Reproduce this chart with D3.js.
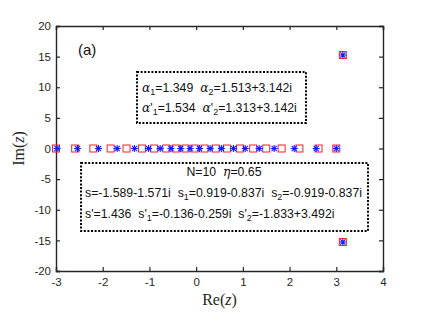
<!DOCTYPE html>
<html>
<head>
  <meta charset="utf-8">
  <script src="https://d3js.org/d3.v7.min.js"></script>
  <style>
  body { margin: 0; background: #fff; }
  text { font-family: "Liberation Sans", Arial, sans-serif; white-space: pre; }
  </style>
</head>
<body>
  <script>
  var w = 436;
  var h = 327;

  //Zeros shown as red squares
  var squareRe = [-3.0, -2.59, -2.2, -1.83, -1.49, -1.16, -0.9, -0.64, -0.43, -0.23, -0.03, 0.18, 0.42, 0.66, 0.94, 1.22, 1.5, 1.83, 2.21, 2.62, 3.0, 3.14, 3.14];
  var squareIm = [0, 0, 0, 0, 0, 0, 0, 0, 0, 0, 0, 0, 0, 0, 0, 0, 0, 0, 0, 0, 0, 15.27, -15.27];

  //Zeros shown as blue stars
  var starRe = [-2.98, -2.54, -2.09, -1.69, -1.32, -1.02, -0.77, -0.54, -0.33, -0.13, 0.07, 0.3, 0.54, 0.8, 1.05, 1.35, 1.67, 2.1, 2.57, 3.0, 3.14, 3.14];
  var starIm = [0, 0, 0, 0, 0, 0, 0, 0, 0, 0, 0, 0, 0, 0, 0, 0, 0, 0, 0, 0, 15.27, -15.27];

  var xTicks = [-3, -2, -1, 0, 1, 2, 3, 4];
  var yTicks = [-20, -15, -10, -5, 0, 5, 10, 15, 20];

  var margin = {left: 56, right: 53, top: 26, bottom: 56};

  var x = d3.scaleLinear().domain([-3, 4]).range([margin.left, w - margin.right]);
  var y = d3.scaleLinear().domain([-20, 20]).range([h - margin.bottom, margin.top]);

  var svg = d3.select("body").append("svg")
    .attr("width", w)
    .attr("height", h);

  //Plain hyphen labels like the original
  var fmt = function(d){ return String(d); };

  //Axes, ticks pointing in, mirrored on top and right
  var tk = 4;
  svg.append("g")
    .attr("transform", "translate(0," + y(-20) + ")")
    .call(d3.axisBottom(x).tickValues(xTicks).tickSize(-tk).tickPadding(7).tickFormat(fmt));
  svg.append("g")
    .attr("transform", "translate(0," + y(20) + ")")
    .call(d3.axisTop(x).tickValues(xTicks).tickSize(-tk).tickFormat(""));
  svg.append("g")
    .attr("transform", "translate(" + x(-3) + ",0)")
    .call(d3.axisLeft(y).tickValues(yTicks).tickSize(-tk).tickPadding(5).tickFormat(fmt));
  svg.append("g")
    .attr("transform", "translate(" + x(4) + ",0)")
    .call(d3.axisRight(y).tickValues(yTicks).tickSize(-tk).tickFormat(""));

  svg.selectAll(".domain").attr("stroke", "#262626").attr("stroke-width", 1.4);
  svg.selectAll(".tick line").attr("stroke", "#262626").attr("stroke-width", 1.2);
  svg.selectAll(".tick text")
    .attr("fill", "#262626")
    .style("font-size", "11.5px")
    .style("font-family", "Liberation Sans, Arial, sans-serif");

  //Axis labels
  var xl = svg.append("text")
    .attr("x", x(0.5))
    .attr("y", 305)
    .attr("text-anchor", "middle")
    .style("font-family", "Liberation Serif, DejaVu Serif, serif")
    .style("font-size", "16px")
    .attr("fill", "#262626");
  xl.append("tspan").text("Re(");
  xl.append("tspan").style("font-style", "italic").text("z");
  xl.append("tspan").text(")");

  var yl = svg.append("text")
    .attr("transform", "translate(24," + y(0) + ") rotate(-90)")
    .attr("text-anchor", "middle")
    .style("font-family", "Liberation Serif, DejaVu Serif, serif")
    .style("font-size", "16px")
    .attr("fill", "#262626");
  yl.append("tspan").text("Im(");
  yl.append("tspan").style("font-style", "italic").text("z");
  yl.append("tspan").text(")");

  //Panel label
  svg.append("text")
    .attr("x", 78).attr("y", 55)
    .style("font-size", "15px")
    .attr("fill", "#111")
    .text("(a)");

  //Red squares
  var sq = 7;
  svg.append("g").selectAll("rect")
    .data(squareRe)
    .enter().append("rect")
      .attr("x", function(d){ return x(d) - sq / 2; })
      .attr("y", function(d, i){ return y(squareIm[i]) - sq / 2; })
      .attr("width", sq)
      .attr("height", sq)
      .attr("fill", "none")
      .attr("stroke", "#ff2020")
      .attr("stroke-width", 1);

  //Blue stars
  var r = 3.6;
  var star = "M" + (-r) + ",0L" + r + ",0M0," + (-r) + "L0," + r +
    "M" + (-r * 0.72) + "," + (-r * 0.72) + "L" + (r * 0.72) + "," + (r * 0.72) +
    "M" + (-r * 0.72) + "," + (r * 0.72) + "L" + (r * 0.72) + "," + (-r * 0.72);
  svg.append("g").selectAll("path")
    .data(starRe)
    .enter().append("path")
      .attr("d", star)
      .attr("transform", function(d, i){ return "translate(" + x(d) + "," + y(starIm[i]) + ")"; })
      .attr("fill", "none")
      .attr("stroke", "#1a1aff")
      .attr("stroke-width", 1.1);

  //Annotation boxes
  function dotBox(x0, y0, x1, y1){
    svg.append("rect")
      .attr("x", x0).attr("y", y0)
      .attr("width", x1 - x0).attr("height", y1 - y0)
      .attr("fill", "#fff")
      .attr("stroke", "#000")
      .attr("stroke-width", 2)
      .attr("stroke-dasharray", "2,1.6");
  }

  function line(x0, y0, parts, anchor){
    var t = svg.append("text")
      .attr("x", x0).attr("y", y0)
      .attr("text-anchor", anchor || "start")
      .style("font-size", "12.3px")
      .attr("fill", "#111");
    parts.forEach(function(p){
      var s = t.append("tspan").text(p.t);
      if(p.sub) s.attr("baseline-shift", "-30%").style("font-size", "9px");
      if(p.greek) s.style("font-family", "DejaVu Serif, serif").style("font-style", "italic");
    });
  }

  dotBox(137, 72, 306, 123);
  line(142, 92, [{t: "\u03b1", greek: 1}, {t: "1", sub: 1}, {t: "=1.349  "}, {t: "\u03b1", greek: 1}, {t: "2", sub: 1}, {t: "=1.513+3.142i"}]);
  line(142, 112, [{t: "\u03b1", greek: 1}, {t: "'"}, {t: "1", sub: 1}, {t: "=1.534  "}, {t: "\u03b1", greek: 1}, {t: "'"}, {t: "2", sub: 1}, {t: "=1.313+3.142i"}]);

  dotBox(81, 163, 368, 231);
  line(224, 176, [{t: "N=10  "}, {t: "\u03b7", greek: 1}, {t: "=0.65"}], "middle");
  line(85, 197, [{t: "s=-1.589-1.571i  s"}, {t: "1", sub: 1}, {t: "=0.919-0.837i  s"}, {t: "2", sub: 1}, {t: "=-0.919-0.837i"}]);
  line(85, 218, [{t: "s'=1.436  s'"}, {t: "1", sub: 1}, {t: "=-0.136-0.259i  s'"}, {t: "2", sub: 1}, {t: "=-1.833+3.492i"}]);
  </script>
</body>
</html>
